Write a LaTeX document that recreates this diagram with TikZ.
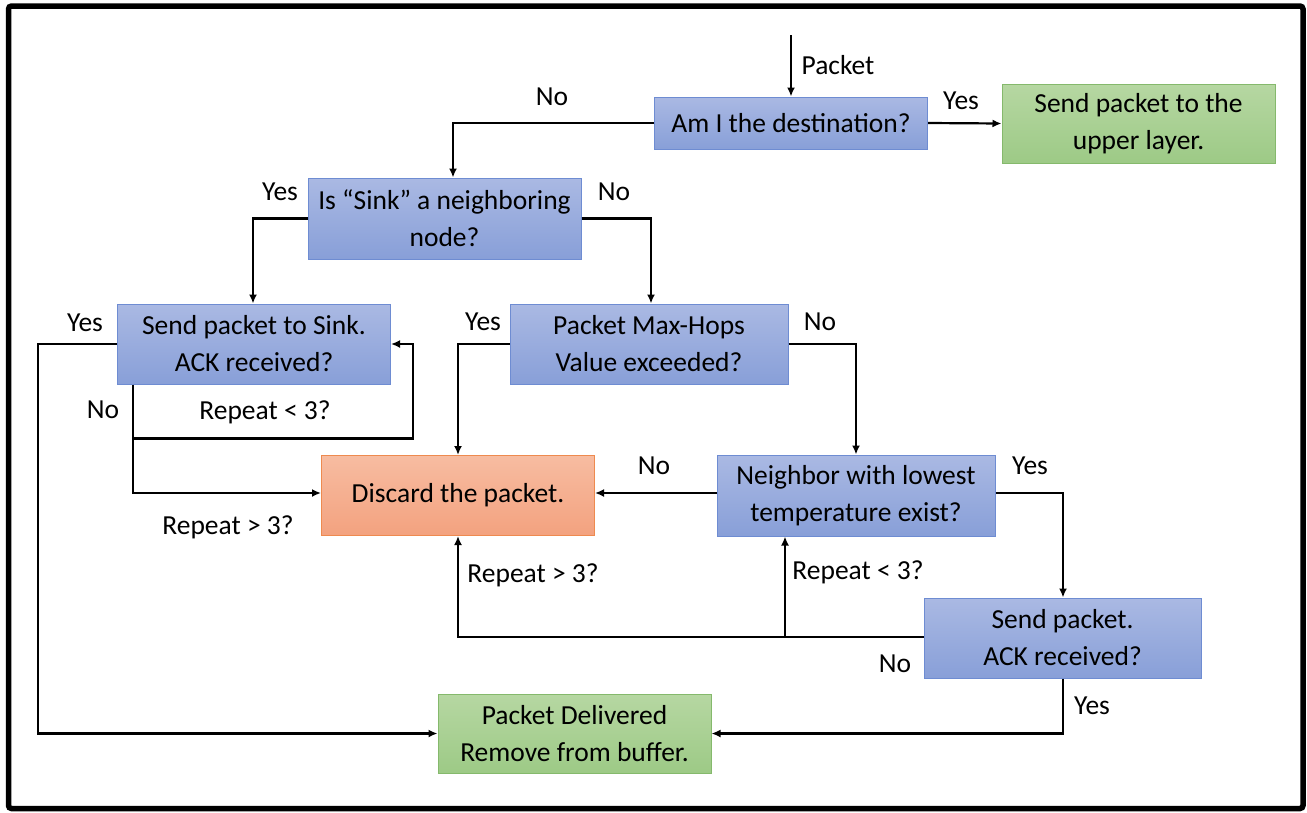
\documentclass[tikz,border=0pt]{standalone}
\usepackage{fontspec}
\setmainfont{Carlito}
\usetikzlibrary{arrows.meta}

\definecolor{bluetop}{HTML}{AAB9E3}
\definecolor{bluebot}{HTML}{889FD8}
\definecolor{blueline}{HTML}{6E8CD2}
\definecolor{greentop}{HTML}{B6D7A2}
\definecolor{greenbot}{HTML}{9DCA86}
\definecolor{greenline}{HTML}{85B96C}
\definecolor{orangetop}{HTML}{F7BCA1}
\definecolor{orangebot}{HTML}{F3A27F}
\definecolor{orangeline}{HTML}{EE8A4F}

\tikzset{
  every node/.style={font=\fontsize{27.5}{37}\selectfont, inner sep=0pt},
  procbox/.style={draw=blueline, line width=1pt, top color=bluetop, bottom color=bluebot,
                  align=center, minimum width=#1},
  procbox/.default=273pt,
  okbox/.style={draw=greenline, line width=1pt, top color=greentop, bottom color=greenbot,
                align=center, minimum width=273pt, minimum height=79pt},
  dropbox/.style={draw=orangeline, line width=1pt, top color=orangetop, bottom color=orangebot,
                  align=center, minimum width=273pt, minimum height=80pt},
  flow/.style={line width=2.2pt, -{Latex[length=9pt,width=8pt]}},
  lbl/.style={anchor=center},
}

\begin{document}
\begin{tikzpicture}[x=1pt, y=-1pt]
  % frame
  \useasboundingbox (0,0) rectangle (1307,812);
  \draw[line width=5.5pt, rounded corners=3pt] (8.5,6) rectangle (1303,808.5);

  % boxes
  \node[procbox, minimum height=52pt] (dest) at (791,123) {Am I the destination?};
  \node[okbox] (upper) at (1138.5,123.5) {Send packet to the\\upper layer.};
  \node[procbox, minimum height=81pt] (sinkq) at (444.5,218.5) {Is “Sink” a neighboring\\node?};
  \node[procbox, minimum height=80pt] (sink) at (254,344) {Send packet to Sink.\\ACK received?};
  \node[procbox=278pt, minimum height=80pt] (hops) at (649,344) {Packet Max-Hops\\Value exceeded?};
  \node[dropbox] (drop) at (458,495.5) {Discard the packet.};
  \node[procbox=278pt, minimum height=81pt] (nbr) at (856,495.5) {Neighbor with lowest\\temperature exist?};
  \node[procbox=277pt, minimum height=80pt] (send) at (1062.5,638) {Send packet.\\ACK received?};
  \node[okbox] (done) at (574.5,733.5) {Packet Delivered\\Remove from buffer.};

  % entry
  \coordinate (in) at (791,35);
  \draw[flow] (in) -- (dest.north);
  \node[lbl] (lpkt) at (838,65) {Packet};

  % destination test
  \draw[flow] (dest.east) -- (upper.west);
  \node[lbl] (lyes1) at (961,101) {Yes};
  \draw[flow] (dest.west) -| (sinkq.north -| 453,0);
  \node[lbl] (lno1) at (552,97) {No};

  % sink neighbour test
  \draw[flow] (sinkq.west) -| (sink.north -| 253,0);
  \node[lbl] (lyes2) at (280,192) {Yes};
  \draw[flow] (sinkq.east) -| (hops.north -| 651,0);
  \node[lbl] (lno2) at (614,192) {No};

  % send to sink
  \coordinate (sinkno) at (sink.south -| 133,0);
  \coordinate (sinkloop) at (133,438.5);
  \draw[flow] (sink.west) -| (38,733.5) -- (done.west);
  \node[lbl] (lyes3) at (85,323) {Yes};
  \draw[flow] (sinkno) |- (drop.west |- 0,493);
  \draw[flow] (sinkloop) -| (413,344) -- (sink.east);
  \node[lbl] (lno3) at (103,410) {No};
  \node[lbl] (lrl1) at (265,412) {Repeat < 3?};
  \node[lbl] (lrg1) at (228,527) {Repeat > 3?};

  % max hops test
  \draw[flow] (hops.west) -| (drop.north -| 458,0);
  \node[lbl] (lyes4) at (483,322) {Yes};
  \draw[flow] (hops.east) -| (nbr.north -| 856,0);
  \node[lbl] (lno4) at (820,322) {No};

  % neighbour test
  \draw[flow] (nbr.west |- 0,493) -- (drop.east |- 0,493);
  \node[lbl] (lno5) at (654,466) {No};
  \draw[flow] (nbr.east |- 0,493) -| (send.north -| 1063,0);
  \node[lbl] (lyes5) at (1030,466) {Yes};

  % send packet
  \coordinate (retry) at (785,637);
  \draw[flow] (send.west |- 0,637) -| (drop.south -| 458,0);
  \draw[flow] (retry) -- (nbr.south -| 785,0);
  \node[lbl] (lno6) at (895,664) {No};
  \node[lbl] (lrg2) at (533,575) {Repeat > 3?};
  \node[lbl] (lrl2) at (858,572) {Repeat < 3?};
  \draw[flow] (send.south -| 1063,0) |- (done.east);
  \node[lbl] (lyes6) at (1092,706) {Yes};
\end{tikzpicture}
\end{document}
